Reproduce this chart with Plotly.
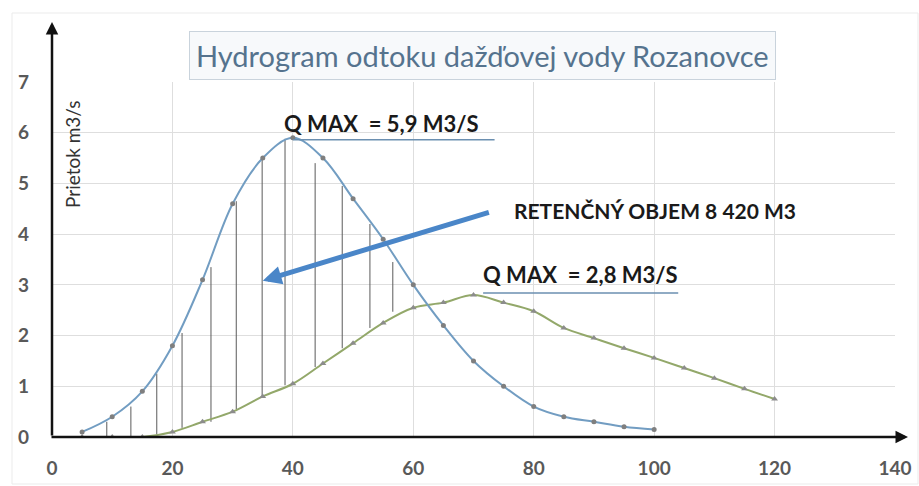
import plotly.graph_objects as go

# ---------------- data ----------------
time_blue = [5, 10, 15, 20, 25, 30, 35, 40, 45, 50, 55, 60, 65, 70, 75, 80, 85, 90, 95, 100]
flow_blue = [0.1, 0.4, 0.9, 1.8, 3.1, 4.6, 5.5, 5.9, 5.5, 4.7, 3.9, 3.0, 2.2, 1.5, 1.0, 0.6, 0.4, 0.3, 0.2, 0.15]

time_green = [5, 10, 15, 20, 25, 30, 35, 40, 45, 50, 55, 60, 65, 70, 75, 80, 85, 90, 95, 100, 105, 110, 115, 120]
flow_green = [0.0, 0.0, 0.0, 0.1, 0.3, 0.5, 0.8, 1.05, 1.45, 1.85, 2.25, 2.55, 2.65, 2.8, 2.65, 2.48, 2.15, 1.95, 1.75, 1.56, 1.36, 1.16, 0.95, 0.75]

hatch_x = [9.1, 13.1, 17.4, 21.6, 26.4, 30.6, 34.9, 38.7, 43.7, 48.2, 52.8, 56.6]
hatch_top = [0.3, 0.6, 1.25, 2.05, 3.35, 4.65, 5.5, 5.88, 5.4, 4.95, 4.2, 3.45]
hatch_bottom = [0.0, 0.0, 0.05, 0.18, 0.3, 0.55, 0.78, 1.02, 1.38, 1.75, 2.15, 2.47]

qmax_blue = 5.9
qmax_green = 2.8
retention_label = "RETENČNÝ OBJEM 8 420 M3"
title_text = "Hydrogram odtoku dažďovej vody Rozanovce"
y_title = "Prietok m3/s"
x_ticks = [0, 20, 40, 60, 80, 100, 120, 140]
y_ticks = [0, 1, 2, 3, 4, 5, 6, 7]

# ---------------- figure ----------------
W, H = 919, 486
ML, MR, MT, MB = 52, 24, 82, 49
PW, PH = W - ML - MR, H - MT - MB


def px_x(px):
    return (px - ML) / PW


def px_y(py):
    return (H - MB - py) / PH


FONT = "Lato"
fig = go.Figure()

# hatch lines (retention volume)
hx, hy = [], []
for x, t, b in zip(hatch_x, hatch_top, hatch_bottom):
    hx += [x, x, None]
    hy += [b, t, None]
fig.add_trace(go.Scatter(x=hx, y=hy, mode="lines",
                         line=dict(color="#5a5a5a", width=1), hoverinfo="skip",
                         showlegend=False))

fig.add_trace(go.Scatter(x=time_green, y=flow_green, mode="lines+markers",
                         line=dict(color="#93a86a", width=2, shape="spline", smoothing=1),
                         marker=dict(symbol="triangle-up", size=6, color="#8c8c8c"),
                         showlegend=False))
fig.add_trace(go.Scatter(x=time_blue, y=flow_blue, mode="lines+markers",
                         line=dict(color="#729dc2", width=2, shape="spline", smoothing=1),
                         marker=dict(symbol="circle", size=5, color="#7f7f7f"),
                         showlegend=False))

# Q max underlines
ib = flow_blue.index(max(flow_blue))
ig = flow_green.index(max(flow_green))
fig.add_shape(type="line", xref="x", yref="y", x0=time_blue[ib], x1=time_blue[ib] + 33.5,
              y0=qmax_blue - 0.04, y1=qmax_blue - 0.04, line=dict(color="#6b8fb0", width=1.5))
fig.add_shape(type="line", xref="x", yref="y", x0=time_green[ig] + 1.6, x1=time_green[ig] + 34,
              y0=qmax_green + 0.04, y1=qmax_green + 0.04, line=dict(color="#6b8fb0", width=1.5))

# outer border
fig.add_shape(type="rect", xref="paper", yref="paper",
              x0=px_x(12), x1=px_x(918), y0=px_y(484), y1=px_y(13),
              line=dict(color="#ebebeb", width=1), layer="below")

ann = []
# Q max labels
ann.append(dict(xref="x", yref="y", x=54.7, y=6.19, showarrow=False,
                text="<b>Q MAX  = %s M3/S</b>" % str(qmax_blue).replace(".", ","),
                font=dict(family=FONT, size=22, color="#1a1a1a")))
ann.append(dict(xref="x", yref="y", x=87.7, y=3.2, showarrow=False,
                text="<b>Q MAX  = %s M3/S</b>" % str(qmax_green).replace(".", ","),
                font=dict(family=FONT, size=22, color="#1a1a1a")))
ann.append(dict(xref="x", yref="y", x=100.2, y=4.46, showarrow=False,
                text="<b>%s</b>" % retention_label,
                font=dict(family=FONT, size=21, color="#1a1a1a")))
# big arrow
ann.append(dict(xref="x", yref="y", x=35.0, y=3.08, axref="x", ayref="y", ax=72.8, ay=4.44,
                text="", showarrow=True, arrowhead=2, arrowsize=0.75, arrowwidth=5,
                arrowcolor="#4a86c8"))
# axes arrows
ann.append(dict(xref="paper", yref="paper", x=0, y=px_y(22), ax=0, ay=415,
                text="", showarrow=True, arrowhead=2, arrowsize=1, arrowwidth=2.5,
                arrowcolor="#111111"))
ann.append(dict(xref="paper", yref="paper", x=px_x(908), y=0, ax=-858, ay=0,
                text="", showarrow=True, arrowhead=2, arrowsize=1, arrowwidth=2.5,
                arrowcolor="#111111"))
# title
ann.append(dict(xref="paper", yref="paper", x=px_x(482), y=px_y(55), showarrow=False,
                xanchor="center", yanchor="middle",
                text=title_text, font=dict(family=FONT, size=29, color="#55738e"),
                bordercolor="#c9d3dc", borderwidth=1, borderpad=6, bgcolor="#f7f9fb"))
# y title
ann.append(dict(xref="paper", yref="paper", x=px_x(72), y=px_y(155), showarrow=False,
                xanchor="center", yanchor="middle",
                text=y_title, textangle=-90, font=dict(family=FONT, size=19, color="#333333")))

fig.update_layout(
    width=W, height=H, margin=dict(l=ML, r=MR, t=MT, b=MB, autoexpand=False),
    paper_bgcolor="white", plot_bgcolor="white",
    annotations=ann,
    xaxis=dict(range=[0, 140], tickvals=x_ticks, showgrid=True, gridcolor="#dedede",
               gridwidth=1, zeroline=False, showline=False, ticks="",
               ticklabelstandoff=18, automargin=False,
               tickfont=dict(family=FONT, size=19, color="#595959", weight="bold")),
    yaxis=dict(range=[0, 7], tickvals=y_ticks, showgrid=True, gridcolor="#dedede",
               gridwidth=1, zeroline=False, showline=False, ticks="",
               ticklabelstandoff=22, automargin=False,
               tickfont=dict(family=FONT, size=19, color="#595959", weight="bold")),
)

fig.write_html("out.html", config={"displayModeBar": False},
               post_script="document.body.style.margin='0';document.body.style.overflow='hidden';")
